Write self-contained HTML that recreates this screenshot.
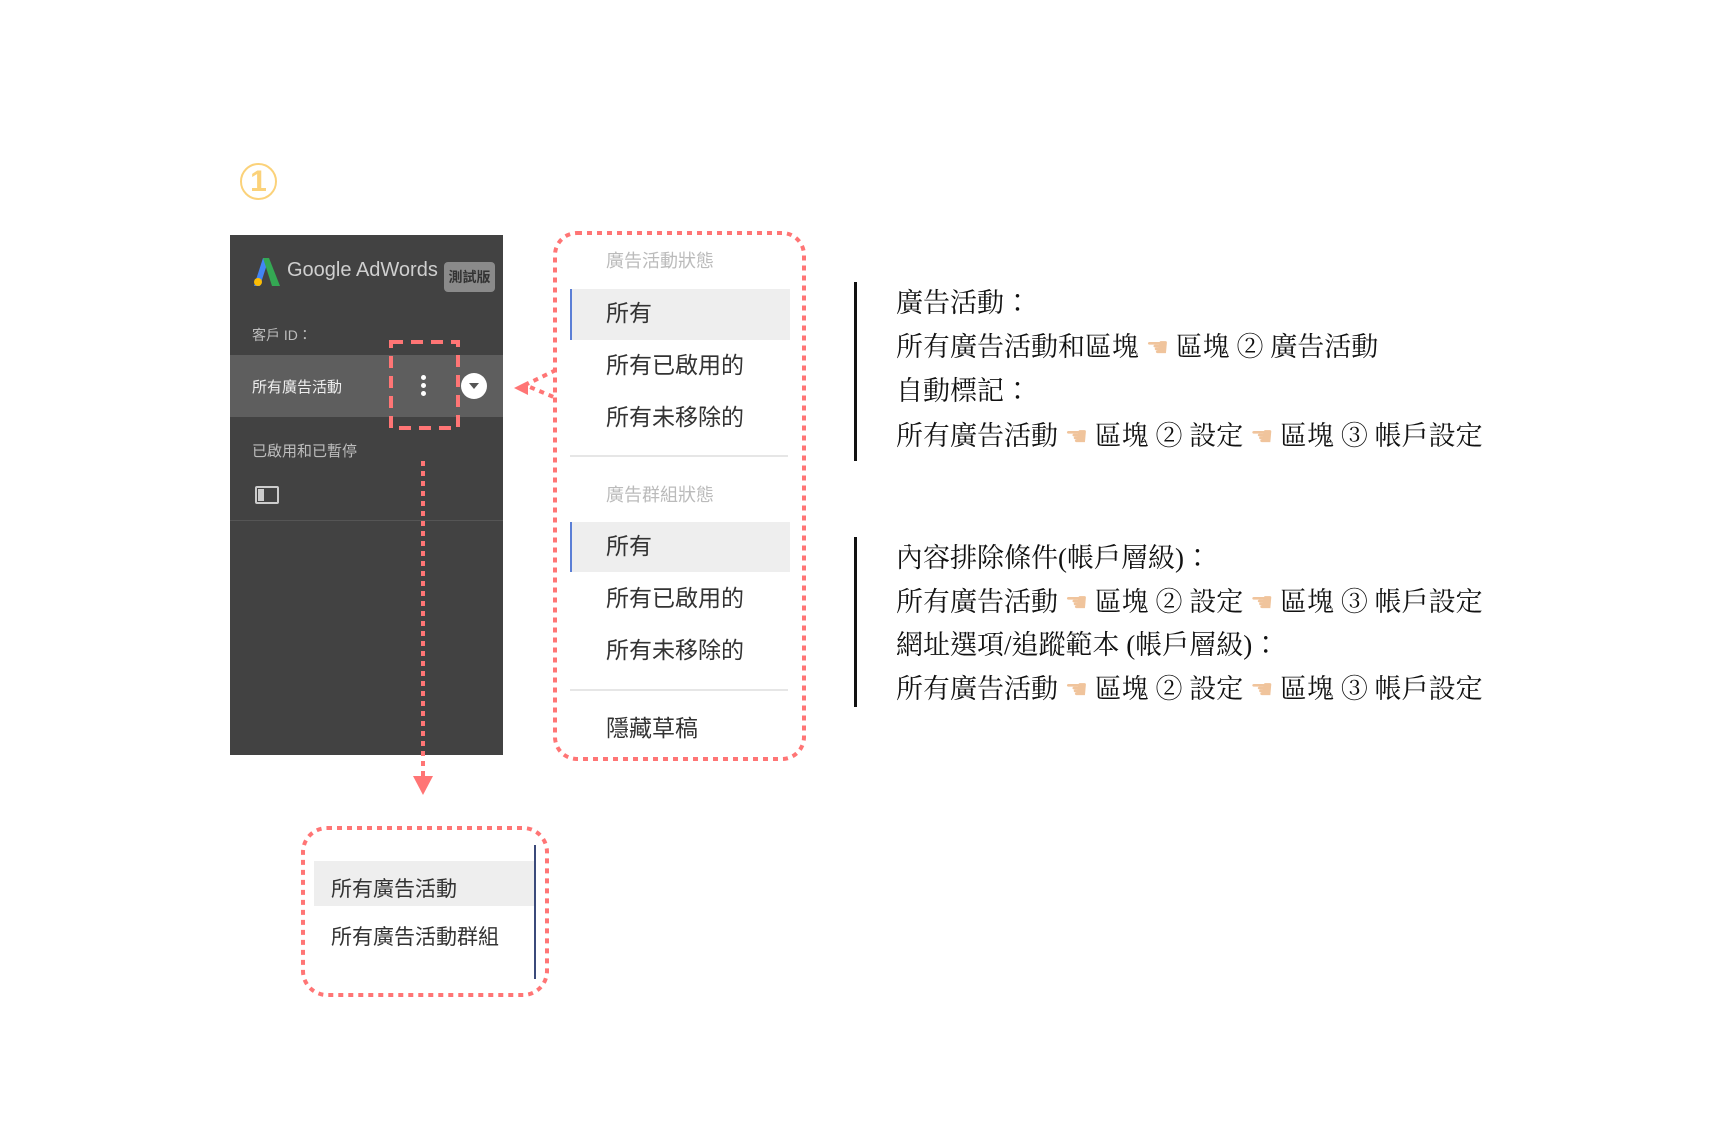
<!DOCTYPE html>
<html><head><meta charset="utf-8"><style>
body{margin:0;width:1720px;height:1147px;background:#fff;position:relative;overflow:hidden;font-family:"Liberation Sans","Noto Sans CJK TC",sans-serif}
.a{position:absolute;white-space:nowrap}
.mi{position:absolute;left:606px;font-size:23px;color:#333;line-height:1}
.hd{position:absolute;left:606px;font-size:18px;color:#bbb;line-height:1}
.hl{position:absolute;left:570px;width:218px;background:#eeeeee;border-left:2px solid #5b7fd6}
.t{position:absolute;left:896px;font-family:"Liberation Serif","Noto Serif CJK TC","Noto Serif CJK SC",serif;font-size:27px;color:#111;line-height:1;white-space:nowrap}
.h{color:#f0c49c;font-family:"DejaVu Sans",sans-serif;font-size:26px}
</style></head><body>
<div class="a" style="left:240px;top:163px;width:37px;height:37px;border:2px solid #fbd27a;border-radius:50%;box-sizing:border-box;color:#fbd27a;font:bold 30px 'Liberation Sans',sans-serif;text-align:center;line-height:34px">1</div>

<div class="a" style="left:230px;top:235px;width:273px;height:520px;background:#424242"></div>
<svg class="a" style="left:254px;top:258px" width="26" height="28"><polygon points="9,0 15,0 6,28 0,28" fill="#4285f4"/><polygon points="9,0 15,0 26,28 18,28" fill="#34a853"/><circle cx="4" cy="24" r="4" fill="#fbbc05"/></svg>
<div class="a" style="left:287px;top:259px;font-size:20px;color:#cfcfcf">Google AdWords</div>
<div class="a" style="left:444px;top:262px;width:51px;height:30px;background:#8a8a8a;border-radius:4px;color:#333;font-size:14px;text-align:center;line-height:30px;font-weight:bold">測試版</div>
<div class="a" style="left:252px;top:325px;font-size:14px;color:#bdbdbd">客戶 ID：</div>
<div class="a" style="left:230px;top:355px;width:273px;height:62px;background:#5e5e5e"></div>
<div class="a" style="left:252px;top:376px;font-size:15px;color:#eee">所有廣告活動</div>
<div class="a" style="left:421px;top:375px;width:5px;height:5px;border-radius:50%;background:#fff;box-shadow:0 8px 0 #fff,0 16px 0 #fff"></div>
<div class="a" style="left:461px;top:373px;width:26px;height:26px;border-radius:50%;background:#fff"></div>
<div class="a" style="left:469px;top:383px;width:0;height:0;border-left:5px solid transparent;border-right:5px solid transparent;border-top:6px solid #555"></div>
<div class="a" style="left:252px;top:440px;font-size:15px;color:#bdbdbd">已啟用和已暫停</div>
<div class="a" style="left:255px;top:486px;width:24px;height:18px;border:2px solid #ccc;box-sizing:border-box;border-radius:2px"></div>
<div class="a" style="left:258px;top:489px;width:6px;height:12px;background:#ccc"></div>
<div class="a" style="left:230px;top:520px;width:273px;height:1px;background:#555"></div>

<div class="hd" style="top:252px">廣告活動狀態</div>
<div class="hl" style="top:289px;height:51px"></div>
<div class="mi" style="top:302px">所有</div>
<div class="mi" style="top:354px">所有已啟用的</div>
<div class="mi" style="top:406px">所有未移除的</div>
<div class="a" style="left:570px;top:455px;width:218px;height:2px;background:#e6e6e6"></div>
<div class="hd" style="top:486px">廣告群組狀態</div>
<div class="hl" style="top:522px;height:50px"></div>
<div class="mi" style="top:535px">所有</div>
<div class="mi" style="top:587px">所有已啟用的</div>
<div class="mi" style="top:639px">所有未移除的</div>
<div class="a" style="left:570px;top:689px;width:218px;height:2px;background:#e6e6e6"></div>
<div class="mi" style="top:717px">隱藏草稿</div>

<div class="a" style="left:314px;top:861px;width:221px;height:45px;background:#eeeeee"></div>
<div class="a" style="left:331px;top:873px;font-size:21px;color:#333">所有廣告活動</div>
<div class="a" style="left:331px;top:921px;font-size:21px;color:#333">所有廣告活動群組</div>
<div class="a" style="left:534px;top:845px;width:2px;height:134px;background:#3b4a7a"></div>

<svg class="a" style="left:0;top:0" width="1720" height="1147">
<g fill="none" stroke="#ff7575" stroke-width="4">
<rect x="391" y="342" width="67" height="86" stroke-dasharray="12 8"/>
<line x1="423" y1="461" x2="423" y2="778" stroke-dasharray="5 5"/>
<rect x="555" y="233" width="249" height="526" rx="22" stroke-dasharray="5 5"/>
<rect x="303" y="828" width="244" height="167" rx="24" stroke-dasharray="5 5"/>
<polyline points="556,370 525,385 556,398" stroke-dasharray="5 5"/>
</g>
<polygon points="413,776 433,776 423,795" fill="#ff7575"/>
<polygon points="514,388 528,381 528,395" fill="#ff7575"/>
<rect x="854" y="282" width="3" height="179" fill="#111"/>
<rect x="854" y="537" width="3" height="170" fill="#111"/>
</svg>

<div class="t" style="top:290px">廣告活動：</div>
<div class="t" style="top:334px">所有廣告活動和區塊 <span class="h">☚</span> 區塊 ② 廣告活動</div>
<div class="t" style="top:378px">自動標記：</div>
<div class="t" style="top:423px">所有廣告活動 <span class="h">☚</span> 區塊 ② 設定 <span class="h">☚</span> 區塊 ③ 帳戶設定</div>
<div class="t" style="top:545px">內容排除條件(帳戶層級)：</div>
<div class="t" style="top:589px">所有廣告活動 <span class="h">☚</span> 區塊 ② 設定 <span class="h">☚</span> 區塊 ③ 帳戶設定</div>
<div class="t" style="top:632px">網址選項/追蹤範本 (帳戶層級)：</div>
<div class="t" style="top:676px">所有廣告活動 <span class="h">☚</span> 區塊 ② 設定 <span class="h">☚</span> 區塊 ③ 帳戶設定</div>
</body></html>
